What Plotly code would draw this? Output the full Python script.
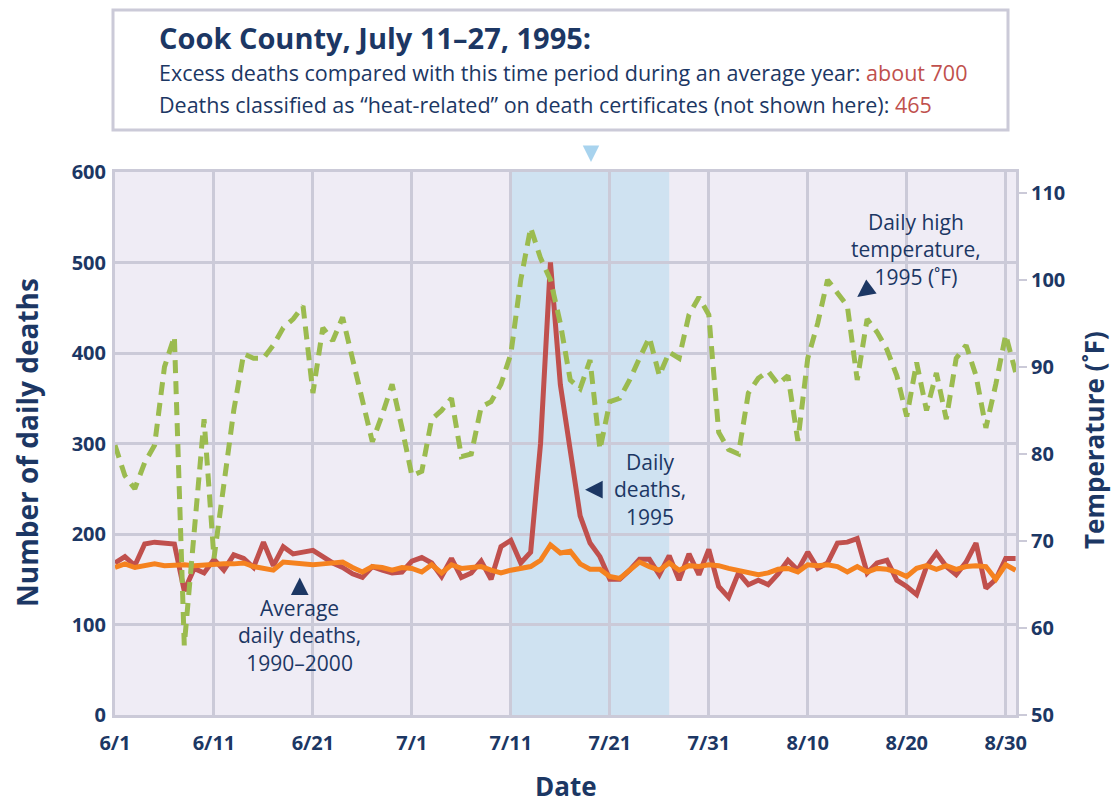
import pandas as pd
import plotly.graph_objects as go

# ---------------- data ----------------
start_date = "1995-06-01"
n_days = 92
dates = pd.date_range(start_date, periods=n_days, freq="D")

# Daily high temperature, 1995 (deg F)
temp_high = [81, 77.5, 76, 79, 81, 90, 93.5, 58, 71, 84,
             68, 76, 85, 91.5, 91, 91, 92.5, 94.5, 95.5, 97,
             87, 94.5, 93, 95.7, 91, 86, 81.4, 84.5, 88, 83,
             77.5, 78, 84, 85, 86.4, 79.7, 80, 85.4, 86, 88,
             91.5, 100, 106, 102.5, 100, 95, 88.5, 87.5, 90.8, 80.5,
             86, 86.4, 88.5, 91, 93.4, 89, 91.7, 91, 96, 98,
             96, 82.5, 80.5, 80, 87, 88.7, 89.5, 88, 89, 81.5,
             91, 95, 100, 98.5, 97, 88.5, 95.5, 94, 92, 89,
             84.3, 90.5, 85, 89.3, 84, 91, 92.5, 89, 83, 88,
             93.7, 89.4]

# Daily deaths, 1995
deaths_1995 = [168, 175, 165, 189, 191, 190, 189, 137, 162, 157,
               172, 160, 177, 173, 163, 191, 165, 186, 178, 180,
               182, 175, 168, 163, 156, 152, 164, 160, 157, 158,
               170, 174, 168, 153, 173, 152, 157, 170, 150, 186,
               193, 168, 180, 300, 500, 365, 290, 220, 190, 175,
               150, 150, 160, 172, 172, 155, 176, 149, 178, 155,
               183, 142, 130, 157, 144, 149, 144, 156, 171, 160,
               180, 162, 168, 190, 191, 195, 157, 168, 171, 149,
               142, 133, 164, 179, 164, 155, 169, 190, 140, 150,
               173, 173]

# Average daily deaths, 1990-2000
deaths_avg = [163, 167, 163, 165, 167, 165, 166, 166, 165, 166,
              166, 167, 167, 168, 164, 162, 160, 169, 168, 166,
              166, 167, 168, 169, 163, 158, 164, 163, 160, 163,
              162, 158, 166, 157, 166, 162, 163, 164, 160, 157,
              160, 162, 164, 171, 188, 179, 181, 167, 161, 161,
              153, 151, 160, 169, 164, 160, 168, 160, 165, 164,
              166, 165, 162, 160, 158, 155, 157, 161, 162, 158,
              166, 165, 166, 164, 158, 164, 158, 162, 161, 158,
              153, 162, 165, 161, 165, 161, 164, 165, 164, 150,
              166, 160]

heat_wave_start = "1995-07-11"
heat_wave_end = "1995-07-27"

x_tick_dates = ["1995-06-01", "1995-06-11", "1995-06-21", "1995-07-01", "1995-07-11",
                "1995-07-21", "1995-07-31", "1995-08-10", "1995-08-20", "1995-08-30"]
x_tick_labels = ["6/1", "6/11", "6/21", "7/1", "7/11", "7/21", "7/31", "8/10", "8/20", "8/30"]
left_ticks = [0, 100, 200, 300, 400, 500, 600]
right_ticks = [50, 60, 70, 80, 90, 100, 110]

# ---------------- style ----------------
NAVY = "#1c3764"
RED = "#c0504d"
ORANGE = "#f5821f"
GREEN = "#9bbb4f"
GRID = "#cbcad8"
BG = "#efecf5"
BLUE = "#cfe2f1"
FONT = "Open Sans"

L, T, PW, PH = 115, 172, 901, 543
W, H = 1113, 804

fig = go.Figure()

fig.add_trace(go.Scatter(x=dates, y=deaths_1995, mode="lines",
                         line=dict(color=RED, width=5), name="Daily deaths, 1995"))
fig.add_trace(go.Scatter(x=dates, y=deaths_avg, mode="lines",
                         line=dict(color=ORANGE, width=5), name="Average daily deaths"))
fig.add_trace(go.Scatter(x=dates, y=temp_high, mode="lines", yaxis="y2",
                         line=dict(color=GREEN, width=5, dash="13px,8px"),
                         name="Daily high temperature"))

fig.add_shape(type="rect", xref="x", yref="y", x0=heat_wave_start, x1=heat_wave_end,
              y0=0, y1=600, fillcolor=BLUE, line_width=0, layer="below")

tick_font = dict(size=20, family=FONT, weight="bold", color=NAVY)
fig.update_layout(
    width=W, height=H,
    margin=dict(l=L, r=W - L - PW, t=T, b=H - T - PH),
    paper_bgcolor="white", plot_bgcolor=BG,
    showlegend=False,
    font=dict(family=FONT, color=NAVY),
    xaxis=dict(type="date", range=["1995-06-01", "1995-08-31 01:00"],
               tickvals=x_tick_dates, ticktext=x_tick_labels,
               showgrid=True, gridcolor=GRID, gridwidth=3,
               showline=True, linecolor=GRID, linewidth=3, mirror=True,
               ticks="", tickfont=tick_font, ticklabelstandoff=8,
               zeroline=False),
    yaxis=dict(range=[0, 600], tickvals=left_ticks,
               showgrid=True, gridcolor=GRID, gridwidth=3,
               showline=True, linecolor=GRID, linewidth=3, mirror=True,
               ticks="", tickfont=tick_font, ticklabelstandoff=2,
               zeroline=False),
    yaxis2=dict(range=[50, 112.4], tickvals=right_ticks, overlaying="y", side="right",
                showgrid=False, zeroline=False,
                showline=True, linecolor=GRID, linewidth=3,
                ticks="outside", ticklen=8, tickwidth=2, tickcolor=GRID,
                tickfont=tick_font),
)


def paper_x(px):
    return (px - L) / PW


def paper_y(py):
    return (T + PH - py) / PH


def ptext(text, px, py, size, bold=False, angle=0, xanchor="center"):
    fig.add_annotation(text=text, xref="paper", yref="paper", x=paper_x(px), y=paper_y(py),
                       xanchor=xanchor, yanchor="middle", textangle=angle, showarrow=False,
                       borderpad=0,
                       font=dict(size=size, weight="bold" if bold else "normal",
                                 color=NAVY, family=FONT))


ptext("Number of daily deaths", 27, 443, 28, bold=True, angle=-90)
ptext("Temperature (˚F)", 1094, 440, 26, bold=True, angle=-90)
ptext("Date", 566, 786, 26, bold=True)

# header box
fig.add_shape(type="rect", xref="paper", yref="paper",
              x0=paper_x(113), x1=paper_x(1008), y0=paper_y(130), y1=paper_y(10),
              line=dict(color=GRID, width=3), fillcolor="white", layer="above")
ptext("Cook County, July 11–27, 1995:", 158, 38, 29, bold=True, xanchor="left")
ptext("Excess deaths compared with this time period during an average year: "
      f"<span style='color:{RED}'>about 700</span>", 158, 72, 21.5, xanchor="left")
ptext("Deaths classified as “heat-related” on death certificates (not shown here): "
      f"<span style='color:{RED}'>465</span>", 158, 104, 21.5, xanchor="left")
# small blue pointer under header
fig.add_annotation(text="", xref="paper", yref="paper", x=paper_x(591), y=paper_y(162),
                   ax=0, ay=-16, showarrow=True, arrowhead=2, arrowsize=1.5, arrowwidth=2.2,
                   arrowcolor="#a8d3ee")

# series labels
lab_font = dict(size=21, color=NAVY, family=FONT)
arrow_kw = dict(showarrow=True, arrowhead=2, arrowsize=1.6, arrowwidth=2.2, arrowcolor=NAVY)
fig.add_annotation(text="Average<br>daily deaths,<br>1990–2000", x="1995-06-19 16:00", y=88,
                   showarrow=False, font=lab_font, yanchor="middle")
fig.add_annotation(text="", x="1995-06-19 16:00", y=152, ax=0, ay=18, **arrow_kw)

fig.add_annotation(text="Daily<br>deaths,<br>1995", x="1995-07-25 01:00", y=249,
                   showarrow=False, font=lab_font, yanchor="middle")
fig.add_annotation(text="", x="1995-07-18 12:00", y=249, ax=18, ay=0, **arrow_kw)

fig.add_annotation(text="Daily high<br>temperature,<br>1995 (˚F)", x="1995-08-20 22:00", y=514,
                   showarrow=False, font=lab_font, yanchor="middle")
fig.add_annotation(text="", x="1995-08-15 00:00", y=462, ax=15, ay=-11, **arrow_kw)

# remove the browser's default body margin so the 1113x804 figure fills the window exactly
fig.write_html("out.html", config={"displayModeBar": False},
               post_script="document.body.style.margin='0px';document.body.style.overflow='hidden';")
